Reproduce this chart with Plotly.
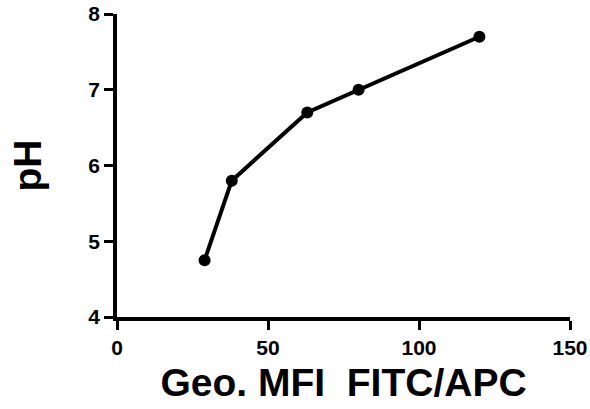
import plotly.graph_objects as go

mfi = [29, 38, 63, 80, 120]
ph = [4.75, 5.8, 6.7, 7.0, 7.7]
x_ticks = [0, 50, 100, 150]
y_ticks = [4, 5, 6, 7, 8]

font_family = "Liberation Sans, Arial, sans-serif"

fig = go.Figure()
fig.add_trace(go.Scatter(
    x=mfi, y=ph, mode="lines+markers",
    line=dict(color="black", width=4),
    marker=dict(color="black", size=12),
    cliponaxis=False,
    showlegend=False,
))

fig.update_layout(
    width=590, height=409,
    margin=dict(l=117, r=20, t=14, b=92),
    paper_bgcolor="white", plot_bgcolor="white",
    font=dict(family=font_family, color="black"),
)
fig.update_xaxes(
    range=[0, 150], tickvals=x_ticks, ticktext=[str(v) for v in x_ticks],
    showline=True, linecolor="black", linewidth=3.5,
    ticks="outside", ticklen=9, tickwidth=3, tickcolor="black",
    showgrid=False, zeroline=False,
    tickfont=dict(family=font_family, size=21, weight="bold"),
    title=dict(text="Geo. MFI  FITC/APC", standoff=12,
               font=dict(family=font_family, size=39, weight="bold")),
    automargin=False,
)
fig.update_yaxes(
    range=[4, 8], tickvals=y_ticks, ticktext=[str(v) for v in y_ticks],
    showline=True, linecolor="black", linewidth=3.5,
    ticks="outside", ticklen=9, tickwidth=3, tickcolor="black",
    showgrid=False, zeroline=False,
    tickfont=dict(family=font_family, size=21, weight="bold"),
    title=dict(text="pH", standoff=36,
               font=dict(family=font_family, size=39, weight="bold")),
    automargin=False,
)

fig.write_html("out.html")
